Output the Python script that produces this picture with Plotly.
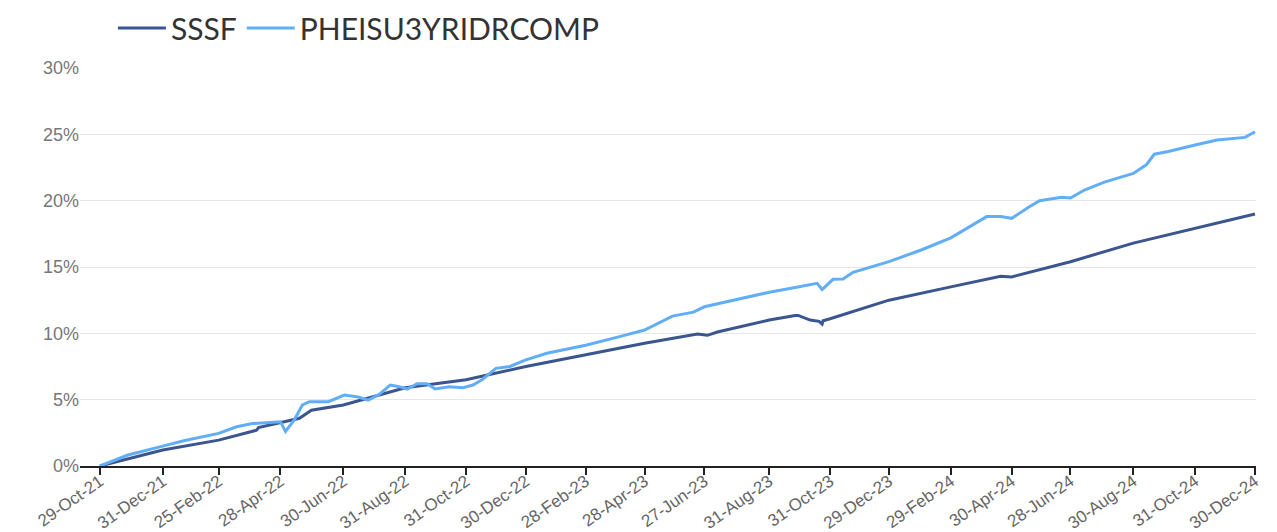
import plotly.graph_objects as go

# ---- data ----
sssf_dates = ["2021-10-29", "2021-12-31", "2022-02-25", "2022-04-04", "2022-04-06", "2022-04-28",
              "2022-05-17", "2022-05-29", "2022-06-30", "2022-08-31", "2022-10-31", "2022-12-30",
              "2023-02-28", "2023-04-28", "2023-06-20", "2023-06-30", "2023-07-10", "2023-08-31",
              "2023-09-26", "2023-09-29", "2023-10-11", "2023-10-20", "2023-10-23", "2023-10-24",
              "2023-10-31", "2023-12-29", "2024-02-29", "2024-04-19", "2024-04-30", "2024-06-28",
              "2024-08-30", "2024-10-31", "2024-12-30"]
sssf_vals = [0.0, 1.2, 1.95, 2.7, 2.9, 3.25,
             3.6, 4.2, 4.6, 5.9, 6.5, 7.5,
             8.4, 9.25, 9.95, 9.85, 10.1, 11.0,
             11.35, 11.35, 11.0, 10.9, 10.7, 10.95,
             11.1, 12.5, 13.5, 14.3, 14.25, 15.4,
             16.8, 17.9, 19.0]

idx_dates = ["2021-10-29", "2021-11-26", "2021-12-31", "2022-01-21", "2022-02-25", "2022-03-15",
             "2022-03-31", "2022-04-28", "2022-05-03", "2022-05-12", "2022-05-20", "2022-05-27",
             "2022-06-15", "2022-07-01", "2022-07-15", "2022-07-25", "2022-08-05", "2022-08-16",
             "2022-08-24", "2022-09-02", "2022-09-12", "2022-09-22", "2022-09-30", "2022-10-14",
             "2022-10-28", "2022-11-07", "2022-11-16", "2022-11-30", "2022-12-14", "2022-12-30",
             "2023-01-20", "2023-02-28", "2023-04-03", "2023-04-28", "2023-05-26", "2023-06-16",
             "2023-06-27", "2023-07-28", "2023-08-31", "2023-09-26", "2023-10-18", "2023-10-23",
             "2023-11-03", "2023-11-13", "2023-11-23", "2023-12-29", "2024-01-31", "2024-02-29",
             "2024-03-14", "2024-04-05", "2024-04-19", "2024-04-30", "2024-05-17", "2024-05-28",
             "2024-06-19", "2024-06-28", "2024-07-12", "2024-08-01", "2024-08-30", "2024-09-12",
             "2024-09-20", "2024-10-04", "2024-10-31", "2024-11-22", "2024-12-20", "2024-12-30"]
idx_vals = [0.0, 0.83, 1.5, 1.9, 2.46, 2.96,
            3.2, 3.34, 2.6, 3.5, 4.6, 4.85,
            4.85, 5.35, 5.2, 4.97, 5.4, 6.1,
            6.0, 5.8, 6.2, 6.2, 5.8, 5.97,
            5.9, 6.1, 6.5, 7.36, 7.5, 8.0,
            8.5, 9.1, 9.75, 10.25, 11.3, 11.6,
            12.0, 12.5, 13.1, 13.45, 13.77, 13.3,
            14.07, 14.1, 14.6, 15.4, 16.3, 17.2,
            17.8, 18.8, 18.8, 18.67, 19.5, 20.0,
            20.25, 20.2, 20.8, 21.4, 22.05, 22.7,
            23.5, 23.7, 24.2, 24.57, 24.77, 25.2]

tick_dates = ["2021-10-29", "2021-12-31", "2022-02-25", "2022-04-28", "2022-06-30", "2022-08-31",
              "2022-10-31", "2022-12-30", "2023-02-28", "2023-04-28", "2023-06-27", "2023-08-31",
              "2023-10-31", "2023-12-29", "2024-02-29", "2024-04-30", "2024-06-28", "2024-08-30",
              "2024-10-31", "2024-12-30"]
tick_labels = ["29-Oct-21", "31-Dec-21", "25-Feb-22", "28-Apr-22", "30-Jun-22", "31-Aug-22",
               "31-Oct-22", "30-Dec-22", "28-Feb-23", "28-Apr-23", "27-Jun-23", "31-Aug-23",
               "31-Oct-23", "29-Dec-23", "29-Feb-24", "30-Apr-24", "28-Jun-24", "30-Aug-24",
               "31-Oct-24", "30-Dec-24"]
y_ticks = [0, 5, 10, 15, 20, 25, 30]
y_labels = ["0%", "5%", "10%", "15%", "20%", "25%", "30%"]

fig = go.Figure()
fig.add_trace(go.Scatter(x=sssf_dates, y=sssf_vals, mode="lines", name="SSSF",
                         line=dict(color="#3A5590", width=3)))
fig.add_trace(go.Scatter(x=idx_dates, y=idx_vals, mode="lines", name="PHEISU3YRIDRCOMP",
                         line=dict(color="#62AEF6", width=3)))

fig.update_layout(
    width=1277, height=532,
    margin=dict(l=80, r=21, t=68, b=66, autoexpand=False),
    paper_bgcolor="white", plot_bgcolor="white",
    showlegend=True,
    legend=dict(orientation="h", x=0.028, xanchor="left",
                yref="container", y=1 - 28 / 532, yanchor="middle",
                font=dict(family="Lato", size=30, color="#333333"),
                itemwidth=48, tracegroupgap=0, bgcolor="rgba(0,0,0,0)"),
    xaxis=dict(type="date", range=["2021-10-09", "2024-12-31"], automargin=False,
               tickvals=tick_dates, ticktext=tick_labels, tickangle=-35,
               ticklabelstandoff=-10,
               showgrid=False, showline=True, linecolor="#222222", linewidth=2,
               ticks="outside", ticklen=7, tickwidth=2, tickcolor="#222222",
               tickfont=dict(family="Liberation Sans", size=17, color="#666666"),
               zeroline=False),
    yaxis=dict(range=[0, 30], tickmode="array", tickvals=y_ticks, ticktext=y_labels,
               automargin=False,
               showgrid=True, gridcolor="#e6e6e6", gridwidth=1, zeroline=False,
               showline=False, ticks="",
               tickfont=dict(family="Liberation Sans", size=18, color="#777777")),
)

fig.write_html("out.html", config={"displayModeBar": False},
               post_script="document.body.style.margin='0';document.body.style.overflow='hidden';")
